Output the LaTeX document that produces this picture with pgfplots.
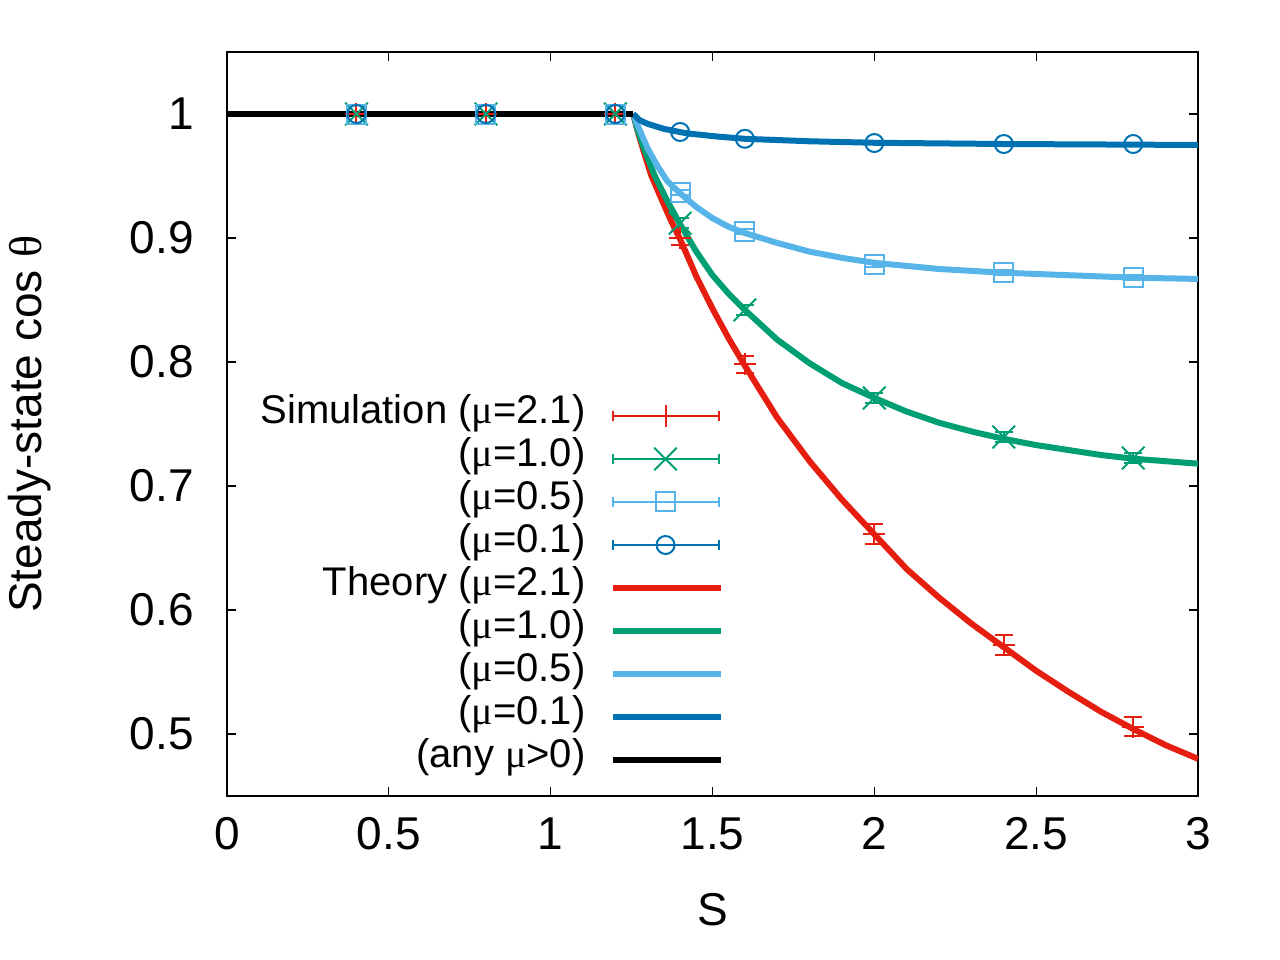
\documentclass[border=0pt]{standalone}
\usepackage{fontspec}
\setmainfont{Liberation Sans}
\newfontfamily\greek{Liberation Serif}
\usepackage{pgfplots}
\pgfplotsset{compat=1.18}
\definecolor{cred}{HTML}{E51E10}
\definecolor{cgreen}{HTML}{009E73}
\definecolor{clblue}{HTML}{56B4E9}
\definecolor{cblue}{HTML}{0072B2}
\newcommand{\mmu}{{\greek μ}}
\newcommand{\fs}{\fontsize{20bp}{24bp}\selectfont}
\newcommand{\fl}{\fontsize{23bp}{27bp}\selectfont}
\pgfplotsset{
  simleg/.style={legend image code/.code={
    \draw[##1, line width=1bp, mark=none] (0bp,0bp) -- (53bp,0bp);
    \draw[##1, line width=1bp, mark=none] (0bp,-2.5bp) -- (0bp,2.5bp);
    \draw[##1, line width=1bp, mark=none] (53bp,-2.5bp) -- (53bp,2.5bp);
    \draw[##1] plot coordinates {(26.5bp,0bp)};
  }}
}
\begin{document}
\begin{tikzpicture}
\path[use as bounding box] (0,0) rectangle (640bp,480bp);
\begin{axis}[
  at={(113.5bp,82bp)}, anchor=south west,
  scale only axis, width=485.5bp, height=372bp,
  xmin=0, xmax=3, ymin=0.45, ymax=1.05,
  xtick={0,0.5,1,1.5,2,2.5,3},
  ytick={0.5,0.6,0.7,0.8,0.9,1},
  /pgf/number format/assume math mode=true,
  tick align=inside, major tick length=4.5bp,
  tick style={line width=0.6bp, black},
  axis line style={line width=0.6bp},
  every tick label/.append style={font=\fl},
  xticklabel style={inner sep=0pt, anchor=north, yshift=-10.5bp},
  yticklabel style={inner sep=0pt, anchor=east, xshift=-16.5bp},
  xlabel={S}, ylabel={Steady-state cos {\greek θ}},
  xlabel style={font=\fl, at={(axis description cs:0.5,0)}, anchor=north, inner sep=0pt, yshift=-48.5bp},
  ylabel style={font=\fl, at={(axis description cs:0,0.5)}, anchor=north, inner sep=0pt, yshift=109.5bp},
  legend plot pos=right,
  legend cell align=right,
  legend style={draw=none, fill=none, inner sep=0pt, font=\fs, column sep=12bp, row sep=0pt,
    at={(0.5118,0.5402)}, anchor=north east,
    nodes={inner sep=0pt, text height=14.5bp, text depth=7bp}},
  legend image code/.code={\draw[#1] (0bp,0bp) -- (54bp,0bp);},
  error bars/error bar style={line width=1bp},
  error bars/error mark options={line width=1bp, mark size=4.5bp, rotate=90},
]
% Simulation
\addplot[cred, only marks, mark=+, mark size=5.5bp, mark options={line width=1bp}, simleg,
  error bars/.cd, y dir=both, y explicit]
  table[x=S, y=c, y error=e] {
S c e
0.4 1.000 0
0.8 1.000 0
1.2 1.000 0
1.4 0.900 0.006
1.6 0.798 0.007
2.0 0.661 0.008
2.4 0.572 0.008
2.8 0.506 0.008
};
\addlegendentry{Simulation (\mmu=2.1)}
\addplot[cgreen, only marks, mark=x, mark size=8bp, mark options={line width=1bp}, simleg,
  error bars/.cd, y dir=both, y explicit]
  table[x=S, y=c, y error=e] {
S c e
0.4 1.000 0
0.8 1.000 0
1.2 1.000 0
1.4 0.912 0.004
1.6 0.842 0.004
2.0 0.771 0.004
2.4 0.7395 0.004
2.8 0.7226 0.004
};
\addlegendentry{(\mmu=1.0)}
\addplot[clblue, only marks, mark=square, mark size=4.75bp, mark options={line width=1bp}, simleg,
  error bars/.cd, y dir=both, y explicit]
  table[x=S, y=c, y error=e] {
S c e
0.4 1.000 0
0.8 1.000 0
1.2 1.000 0
1.4 0.937 0.002
1.6 0.905 0.002
2.0 0.879 0.002
2.4 0.872 0.002
2.8 0.8685 0.002
};
\addlegendentry{(\mmu=0.5)}
\addplot[cblue, only marks, mark=o, mark size=4.5bp, mark options={line width=1bp}, simleg,
  error bars/.cd, y dir=both, y explicit]
  table[x=S, y=c, y error=e] {
S c e
0.4 1.000 0
0.8 1.000 0
1.2 1.000 0
1.4 0.9855 0.001
1.6 0.9800 0.001
2.0 0.9766 0.001
2.4 0.9758 0.001
2.8 0.9758 0.001
};
\addlegendentry{(\mmu=0.1)}
% Theory
\addplot[cred, line width=3bp, no marks] table {
1.255 1.000
1.27 0.985
1.286 0.971
1.31 0.951
1.343 0.931
1.37 0.915
1.40 0.899
1.45 0.869
1.50 0.843
1.55 0.819
1.60 0.797
1.70 0.755
1.80 0.720
1.90 0.689
2.00 0.661
2.10 0.633
2.20 0.610
2.30 0.589
2.40 0.570
2.50 0.551
2.60 0.534
2.70 0.518
2.80 0.504
2.90 0.491
3.00 0.480
};
\addlegendentry{Theory (\mmu=2.1)}
\addplot[cgreen, line width=3bp, no marks] table {
1.255 1.000
1.27 0.986
1.29 0.971
1.32 0.951
1.358 0.931
1.40 0.911
1.45 0.889
1.50 0.870
1.55 0.855
1.60 0.842
1.70 0.818
1.80 0.799
1.90 0.783
2.00 0.771
2.10 0.760
2.20 0.751
2.30 0.744
2.40 0.738
2.50 0.733
2.60 0.729
2.70 0.725
2.80 0.722
2.90 0.720
3.00 0.718
};
\addlegendentry{(\mmu=1.0)}
\addplot[clblue, line width=3bp, no marks] table {
1.255 1.000
1.27 0.990
1.30 0.972
1.33 0.958
1.36 0.946
1.40 0.936
1.45 0.925
1.50 0.916
1.55 0.909
1.60 0.904
1.70 0.896
1.80 0.889
1.90 0.884
2.00 0.880
2.20 0.875
2.40 0.872
2.60 0.870
2.80 0.868
3.00 0.867
};
\addlegendentry{(\mmu=0.5)}
\addplot[cblue, line width=3bp, no marks] table {
1.255 1.000
1.275 0.995
1.30 0.992
1.35 0.988
1.42 0.9844
1.52 0.9817
1.60 0.980
1.80 0.978
2.00 0.9768
2.40 0.9758
2.80 0.9753
3.00 0.975
};
\addlegendentry{(\mmu=0.1)}
\addplot[black, line width=3bp, no marks] table {
0 1.0
1.255 1.0
};
\addlegendentry{(any \mmu>0)}
\end{axis}
\end{tikzpicture}
\end{document}
